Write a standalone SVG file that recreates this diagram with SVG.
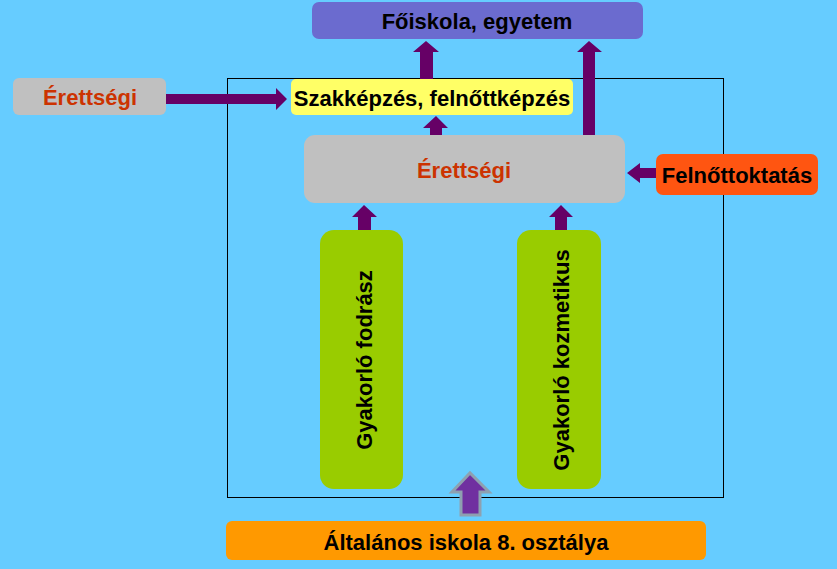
<svg xmlns="http://www.w3.org/2000/svg" width="837" height="569" viewBox="0 0 837 569">
<style>
.t{font-family:"Liberation Sans",Arial,sans-serif;font-weight:bold;font-size:22px;text-anchor:middle;dominant-baseline:central;fill:#000}
.r{fill:#CC3300}
.a{fill:#660066}
</style>
<rect width="837" height="569" fill="#66CCFF"/>
<rect x="227.5" y="78.5" width="496" height="419" fill="none" stroke="#000" stroke-width="1"/>
<g id="connectors">
<polygon class="a" points="166,94 276,94 276,88 287,99 276,110 276,104 166,104"/>
<polygon class="a" points="420,79 420,52 413,52 426,41 439,52 433,52 433,79"/>
<polygon class="a" points="583,135 583,52 577,52 589,41 602,52 595,52 595,135"/>
<polygon class="a" points="430,135 430,128 423,128 436,116 448,128 442,128 442,135"/>
<polygon class="a" points="656,168 640,168 640,163 627,173 640,183 640,178 656,178"/>
<polygon class="a" points="358,243 358,217 352,217 364,205 377,217 371,217 371,243"/>
<polygon class="a" points="555,243 555,217 549,217 561,205 573,217 567,217 567,243"/>
<polygon points="461,515 461,492 452,492 470,473 489,492 480,492 480,515" fill="#7030A0" stroke="#8EA0B0" stroke-width="3"/>
</g>
<g id="foiskola"><rect x="312" y="2" width="331" height="37" rx="7" fill="#6B6BCF"/><text class="t" x="477" y="21">Főiskola, egyetem</text></g>
<g id="erettsegi-left"><rect x="13" y="78" width="153" height="37" rx="6" fill="#C0C0C0"/><text class="t r" x="90" y="97">Érettségi</text></g>
<g id="szakkepzes"><rect x="291" y="79" width="282" height="36" rx="5" fill="#FFFF66"/><text class="t" x="432" y="98">Szakképzés, felnőttképzés</text></g>
<g id="erettsegi"><rect x="304" y="135" width="321" height="68" rx="11" fill="#C0C0C0"/><text class="t r" x="464" y="170">Érettségi</text></g>
<g id="felnottoktatas"><rect x="656" y="154" width="162" height="41" rx="7" fill="#FF5511"/><text class="t" x="737" y="175">Felnőttoktatás</text></g>
<g id="fodrasz"><rect x="320" y="230" width="83" height="259" rx="14" fill="#99CC00"/><text class="t" transform="translate(364 360) rotate(-90)">Gyakorló fodrász</text></g>
<g id="kozmetikus"><rect x="517" y="230" width="84" height="259" rx="14" fill="#99CC00"/><text class="t" transform="translate(561 360) rotate(-90)">Gyakorló kozmetikus</text></g>
<g id="altalanos"><rect x="226" y="521" width="480" height="39" rx="6" fill="#FF9900"/><text class="t" x="466" y="542">Általános iskola 8. osztálya</text></g>
</svg>
